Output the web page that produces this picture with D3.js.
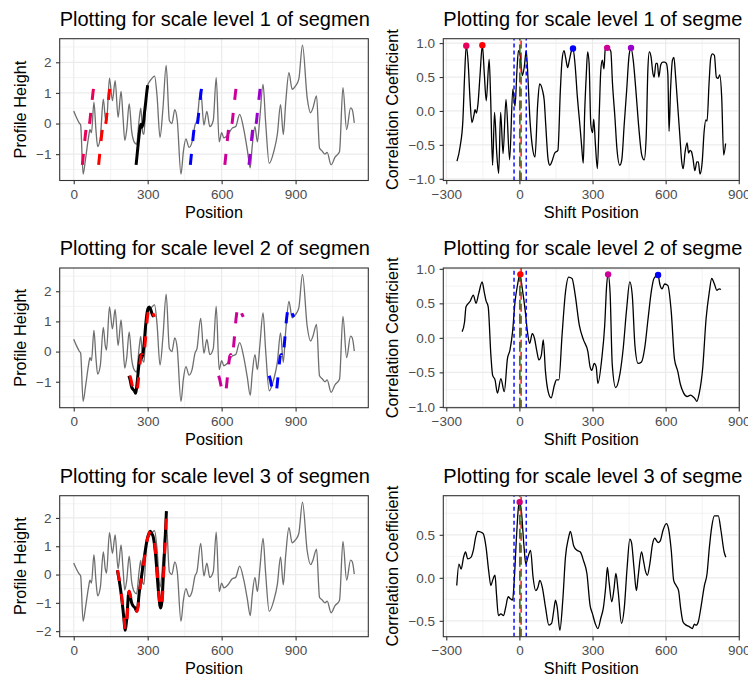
<!DOCTYPE html>
<html><head><meta charset="utf-8">
<script src="https://cdn.jsdelivr.net/npm/d3@7"></script>
<style>
html,body{margin:0;padding:0;background:#fff;overflow:hidden;}
svg{display:block;font-family:"Liberation Sans",Arial,Helvetica,sans-serif;}
</style></head><body>
<svg id="chart" width="748" height="678"></svg>
<script>
// ---------------- data ----------------
const profile = [[0,0.41],[12,0.18],[22,0.02],[28,-0.05],[38,-1.65],[48,-1.15],[60,-0.45],[66,-0.2],[72,-0.3],[82,0.7],[90,-0.2],[97,-0.75],[108,-0.45],[120,0.8],[128,0.2],[133,0.05],[145,1.48],[157,0.75],[168,1.4],[180,0.2],[192,1.05],[200,0.2],[207,-0.55],[215,-0.2],[225,0.65],[235,-0.25],[245,-0.6],[255,-0.68],[265,0.1],[272,0.5],[280,-0.3],[285,-0.35],[292,0.6],[300,1.25],[310,1.4],[320,1.5],[328,1.55],[338,0.9],[350,-0.45],[362,0.5],[375,1.9],[388,0.1],[398,0.0],[410,0.45],[420,0.1],[435,-1.65],[445,-0.9],[455,-0.5],[468,-0.78],[480,-0.6],[492,-0.05],[500,0.1],[515,1.1],[528,-0.05],[540,0.4],[552,-0.1],[566,0.1],[578,1.5],[590,-0.6],[600,-0.3],[609,-0.47],[623,-0.39],[643,-0.15],[657,-0.1],[673,0.3],[690,-0.2],[704,-0.85],[716,-1.45],[724,-0.74],[735,-0.1],[745,-0.6],[755,0.2],[768,1.28],[778,0.1],[793,-1.3],[812,-0.9],[826,-0.35],[839,0.62],[850,-0.36],[860,0.7],[873,1.66],[886,1.12],[900,1.23],[913,1.45],[928,2.56],[947,0.84],[961,0.35],[970,0.5],[985,0.9],[997,-0.8],[1008,-0.9],[1019,-1.0],[1028,-0.94],[1044,-1.35],[1060,-1.1],[1078,-0.92],[1092,1.17],[1107,-0.2],[1123,0.51],[1130,0.45],[1138,0.02]];

const segment1 = [[0,-1.35],[5,-0.95],[10,-0.55],[14,-0.25],[17,-0.1],[20,-0.02],[23,-0.12],[27,-0.05],[30,0.05],[34,0.35],[39,0.7],[43,1.0],[47,1.25]];
const segment2 = [[0,-0.8],[5,-0.95],[10,-1.15],[16,-1.25],[22,-1.3],[27,-1.38],[31,-1.2],[36,-0.8],[41,-0.4],[45,-0.15],[49,-0.1],[53,-0.2],[57,-0.05],[62,0.3],[67,0.8],[72,1.2],[77,1.42],[82,1.48],[88,1.4],[94,1.25],[100,1.15]];
const segment3 = [[0,0.15],[13,-0.53],[27,-1.6],[31,-1.97],[38,-1.57],[47,-0.59],[52,-0.75],[58,-1.0],[65,-1.12],[72,-1.18],[78,-1.3],[83,-1.15],[88,-0.7],[99,-0.01],[108,0.53],[115,0.95],[122,1.29],[128,1.45],[133,1.53],[139,1.45],[145,1.35],[155,0.71],[166,-0.53],[173,-1.12],[176,-1.18],[180,-1.0],[189,0.41],[194,1.3],[199,2.24]];
const segmentStarts = [253, 224, 177];

const peakShifts1 = [-218, -152, 220, 360, 458];
const peakCorr1   = [0.96, 0.97, 0.92, 0.93, 0.93];
const peakColors1 = ["#E8005A", "#FF0000", "#0000FF", "#CC0099", "#9A00CC"];
const peakShifts2 = [4, 364, 569];
const peakCorr2   = [0.92, 0.92, 0.91];
const peakColors2 = ["#FF0000", "#CC0099", "#0000FF"];
const peakShifts3 = [1];
const peakCorr3   = [0.88];
const peakColors3 = ["#CC0077"];
const leftDashColors3 = ["#FF0000"];

const corr1 = [[-256,-0.74],[-243,-0.52],[-232,-0.15],[-225,0.5],[-218,0.96],[-210,0.7],[-203,0.2],[-195,-0.17],[-187,-0.07],[-182,0.02],[-176,-0.03],[-170,0.1],[-162,0.5],[-152,0.97],[-144,0.55],[-136,0.15],[-124,0.76],[-118,0.2],[-110,-0.8],[-102,-0.02],[-93,-0.62],[-85,-0.92],[-77,-0.02],[-67,-0.63],[-55,0.17],[-40,-0.72],[-27,0.32],[-18,0.07],[-10,0.6],[-4,0.89],[4,0.8],[12,0.52],[20,0.65],[28,0.89],[35,0.5],[42,-0.05],[53,-0.52],[64,-0.68],[75,0.1],[83,0.4],[95,0.3],[102,0.15],[108,-0.2],[118,-0.72],[125,-0.8],[133,-0.75],[145,-0.62],[158,-0.58],[168,0.3],[175,0.75],[183,0.89],[190,0.78],[198,0.64],[205,0.75],[213,0.88],[220,0.92],[228,0.7],[238,0.2],[248,-0.2],[255,-0.5],[262,-0.77],[268,0.0],[274,0.5],[280,0.87],[286,0.7],[293,-0.2],[300,-0.32],[305,-0.12],[312,-0.5],[320,-0.85],[328,0.0],[334,0.6],[340,0.75],[347,0.62],[352,0.9],[362,0.93],[375,0.88],[382,0.4],[392,-0.1],[400,-0.55],[412,-0.8],[420,-0.72],[430,-0.2],[440,0.3],[450,0.82],[458,0.93],[467,0.75],[478,0.3],[490,-0.25],[502,-0.65],[512,-0.72],[520,-0.4],[527,0.6],[533,0.87],[540,0.8],[548,0.55],[553,0.5],[560,0.7],[566,0.7],[572,0.5],[580,0.68],[588,0.72],[596,0.72],[603,0.7],[609,0.55],[614,-0.3],[620,0.3],[628,0.75],[634,0.79],[640,0.55],[648,0.15],[658,-0.35],[666,-0.75],[672,-0.85],[680,-0.6],[688,-0.47],[694,-0.62],[700,-0.58],[706,-0.6],[712,-0.7],[720,-0.88],[728,-0.75],[734,-0.75],[741,-0.93],[750,-0.75],[758,-0.3],[765,-0.13],[770,-0.15],[778,0.4],[785,0.78],[792,0.84],[800,0.82],[808,0.5],[815,0.48],[822,0.53],[830,0.2],[838,-0.65],[846,-0.48]];

const corr2 = [[-235,0.09],[-225,0.23],[-219,0.45],[-202,0.53],[-189,0.62],[-178,0.5],[-167,0.64],[-153,0.81],[-144,0.66],[-137,0.54],[-128,0.45],[-117,-0.25],[-110,-0.54],[-100,-0.61],[-90,-0.8],[-76,-0.59],[-62,-0.78],[-49,-0.3],[-39,-0.18],[-28,0.09],[-18,0.52],[-8,0.76],[2,0.92],[12,0.71],[23,0.42],[33,0.09],[42,-0.08],[53,0.06],[62,-0.01],[71,-0.18],[80,-0.32],[90,-0.25],[98,-0.03],[107,-0.49],[118,-0.78],[130,-0.87],[144,-0.68],[152,-0.61],[162,-0.61],[175,0.04],[189,0.66],[202,0.88],[216,0.86],[229,0.62],[246,0.18],[263,-0.03],[281,-0.2],[290,-0.42],[297,-0.47],[307,-0.37],[315,-0.42],[322,-0.66],[338,-0.3],[350,0.18],[358,0.76],[364,0.92],[372,0.66],[381,-0.39],[395,-0.72],[413,-0.51],[426,-0.15],[440,0.42],[453,0.81],[463,0.62],[474,-0.11],[487,-0.37],[501,-0.35],[514,-0.15],[528,0.28],[542,0.69],[552,0.86],[569,0.91],[576,0.78],[585,0.71],[596,0.78],[609,0.76],[623,0.38],[636,-0.3],[650,-0.49],[661,-0.68],[674,-0.8],[688,-0.85],[702,-0.83],[711,-0.85],[720,-0.88],[728,-0.92],[738,-0.8],[752,-0.44],[766,0.28],[779,0.66],[789,0.86],[800,0.78],[810,0.69],[820,0.71],[827,0.7]];

const corr3 = [[-257,-0.09],[-248,0.16],[-239,0.1],[-229,0.24],[-221,0.3],[-212,0.22],[-198,0.24],[-189,0.32],[-178,0.49],[-171,0.54],[-157,0.53],[-148,0.51],[-137,0.36],[-126,0.08],[-117,-0.09],[-110,-0.03],[-100,0.03],[-94,-0.19],[-86,-0.44],[-76,-0.42],[-65,-0.44],[-56,-0.34],[-46,-0.22],[-38,-0.24],[-28,-0.26],[-22,-0.07],[-12,0.47],[-4,0.82],[1,0.88],[8,0.78],[19,0.36],[26,0.16],[35,0.24],[46,0.32],[56,0.01],[67,-0.15],[76,-0.11],[84,-0.03],[94,-0.11],[107,-0.34],[121,-0.55],[132,-0.53],[141,-0.38],[148,-0.26],[155,-0.34],[166,-0.61],[178,-0.26],[189,0.24],[202,0.47],[209,0.54],[223,0.37],[236,0.32],[250,0.3],[263,0.2],[277,0.05],[290,-0.32],[300,-0.42],[311,-0.53],[322,-0.59],[334,-0.47],[345,-0.34],[354,-0.11],[361,0.12],[368,-0.05],[379,-0.28],[388,-0.13],[396,0.05],[405,-0.15],[419,-0.53],[430,-0.36],[442,0.12],[453,0.45],[460,0.41],[470,0.12],[480,-0.15],[487,0.01],[501,0.3],[509,0.2],[517,0.08],[525,0.03],[535,0.16],[546,0.39],[555,0.46],[569,0.41],[578,0.43],[589,0.55],[603,0.63],[612,0.57],[623,0.32],[633,-0.03],[643,-0.09],[653,-0.15],[661,-0.34],[671,-0.51],[684,-0.55],[698,-0.57],[709,-0.59],[718,-0.54],[725,-0.55],[734,-0.51],[745,-0.34],[759,-0.09],[770,0.05],[779,0.34],[789,0.59],[800,0.72],[816,0.72],[827,0.55],[840,0.3],[847,0.24]];

const blueBounds = [-22, 28];
const redShift = 7;
const greenShift = 2;

const scaleLevels = [1, 2, 3];
const positionTicks = [0, 300, 600, 900];
const shiftTicks = [-300, 0, 300, 600, 900];
const heightTicks = [[-1,0,1,2],[-1,0,1,2],[-2,-1,0,1,2]];
const corrTicks = [[-1,-0.5,0,0.5,1],[-1,-0.5,0,0.5,1],[-0.5,0,0.5]];

// ---------------- layout ----------------
const svg = d3.select("#chart");
const rowsY = [[38.7,180.5],[268,407.7],[495.7,636.7]];
const leftX = [59.7, 368.3];
const rightX = [443.3, 739.3];
const FONT_TITLE = 20, FONT_AXIS = 16.3, FONT_TICK = 13.5;
const minus = s => s.replace(/-/g, "\u2212");

function expand(ext){ const r = ext[1]-ext[0]; return [ext[0]-0.05*r, ext[1]+0.05*r]; }
function minorBreaks(ticks, domain){
  const step = ticks[1]-ticks[0]; const out=[];
  for(let v = ticks[0]-step/2; v <= domain[1]; v += step){ if(v>=domain[0]) out.push(v); }
  return out;
}

let clipId = 0;
function panel(xr, yr, xDomain, yDomain, xt, yt, fmtY, title, xTitle, yTitle, yTitleX, drawContent){
  const x = d3.scaleLinear().domain(xDomain).range(xr);
  const y = d3.scaleLinear().domain(yDomain).range([yr[1], yr[0]]);
  const g = svg.append("g");
  const grid = g.append("g");
  minorBreaks(xt, xDomain).forEach(v => grid.append("line").attr("x1",x(v)).attr("x2",x(v)).attr("y1",yr[0]).attr("y2",yr[1]).attr("stroke","#EBEBEB").attr("stroke-width",0.6));
  minorBreaks(yt, yDomain).forEach(v => grid.append("line").attr("y1",y(v)).attr("y2",y(v)).attr("x1",xr[0]).attr("x2",xr[1]).attr("stroke","#EBEBEB").attr("stroke-width",0.6));
  xt.filter(v=>v>=xDomain[0]&&v<=xDomain[1]).forEach(v => grid.append("line").attr("x1",x(v)).attr("x2",x(v)).attr("y1",yr[0]).attr("y2",yr[1]).attr("stroke","#EBEBEB").attr("stroke-width",1.2));
  yt.forEach(v => grid.append("line").attr("y1",y(v)).attr("y2",y(v)).attr("x1",xr[0]).attr("x2",xr[1]).attr("stroke","#EBEBEB").attr("stroke-width",1.2));
  const id = "clip"+(clipId++);
  svg.append("clipPath").attr("id",id).append("rect").attr("x",xr[0]).attr("y",yr[0]).attr("width",xr[1]-xr[0]).attr("height",yr[1]-yr[0]);
  const content = g.append("g").attr("clip-path",`url(#${id})`);
  drawContent(content, x, y);
  g.append("rect").attr("x",xr[0]).attr("y",yr[0]).attr("width",xr[1]-xr[0]).attr("height",yr[1]-yr[0]).attr("fill","none").attr("stroke","#333333").attr("stroke-width",1.1);
  const ax = g.append("g").attr("transform",`translate(0,${yr[1]})`).call(d3.axisBottom(x).tickValues(xt).tickSize(3.7).tickPadding(5).tickFormat(d=>minus(String(d))));
  const ay = g.append("g").attr("transform",`translate(${xr[0]},0)`).call(d3.axisLeft(y).tickValues(yt).tickSize(3.7).tickPadding(4.5).tickFormat(d=>minus(fmtY(d))));
  [ax, ay].forEach(a => {
    a.select(".domain").remove();
    a.selectAll(".tick line").attr("stroke","#333333").attr("stroke-width",1.1);
    a.selectAll(".tick text").attr("fill","#4D4D4D").style("font-size",FONT_TICK+"px").style("font-family","'Liberation Sans',Arial,sans-serif");
  });
  g.append("text").attr("x",xr[0]).attr("y",yr[0]-13).text(title).style("font-size",FONT_TITLE+"px").attr("fill","#000");
  g.append("text").attr("x",(xr[0]+xr[1])/2).attr("y",yr[1]+37.5).attr("text-anchor","middle").text(xTitle).style("font-size",FONT_AXIS+"px").attr("fill","#000");
  g.append("text").attr("transform",`translate(${yTitleX},${(yr[0]+yr[1])/2}) rotate(-90)`).attr("text-anchor","middle").text(yTitle).style("font-size",FONT_AXIS+"px").attr("fill","#000");
}

const segments = [segment1, segment2, segment3];
const peakShifts = [peakShifts1, peakShifts2, peakShifts3];
const peakCorrs = [peakCorr1, peakCorr2, peakCorr3];
const peakColors = [peakColors1, peakColors2, peakColors3];
const dashColors = [peakColors1, peakColors2, leftDashColors3];
const corrs = [corr1, corr2, corr3];

const posDomain = expand(d3.extent(profile, d=>d[0]));
const allShift = corr1.concat(corr2, corr3).map(d=>d[0]);
const shiftDomain = expand(d3.extent(allShift));

scaleLevels.forEach((lvl, i) => {
  const seg = segments[i], start = segmentStarts[i];
  const shifted = s => seg.map(d => [d[0]+start+s, d[1]]);
  const allY = profile.map(d=>d[1]).concat(seg.map(d=>d[1]));
  const yDom = expand(d3.extent(allY));
  panel(leftX, rowsY[i], posDomain, yDom, positionTicks, heightTicks[i], d=>String(d),
    `Plotting for scale level ${lvl} of segmen`, "Position", "Profile Height", 26,
    (c, x, y) => {
      const line = d3.line().x(d=>x(d[0])).y(d=>y(d[1])).curve(d3.curveMonotoneX);
      c.append("path").datum(profile).attr("d",line).attr("fill","none").attr("stroke","#6E6E6E").attr("stroke-width",1.3);
      c.append("path").datum(shifted(0)).attr("d",line).attr("fill","none").attr("stroke","#000").attr("stroke-width",3);
      peakShifts[i].forEach((s, k) => {
        c.append("path").datum(shifted(s)).attr("d",line).attr("fill","none").attr("stroke",dashColors[i][k]).attr("stroke-width",3).attr("stroke-dasharray","11,13");
      });
    });

  const cy = expand(d3.extent(corrs[i], d=>d[1]));
  panel(rightX, rowsY[i], shiftDomain, cy, shiftTicks, corrTicks[i], d3.format(".1f"),
    `Plotting for scale level ${lvl} of segme`, "Shift Position", "Correlation Coefficient", 398,
    (c, x, y) => {
      const line = d3.line().x(d=>x(d[0])).y(d=>y(d[1])).curve(d3.curveMonotoneX);
      c.append("path").datum(corrs[i]).attr("d",line).attr("fill","none").attr("stroke","#000").attr("stroke-width",1.3);
      blueBounds.forEach(b => c.append("line").attr("x1",x(b)).attr("x2",x(b)).attr("y1",y.range()[0]).attr("y2",y.range()[1]).attr("stroke","#0000FF").attr("stroke-width",1.4).attr("stroke-dasharray","4,3"));
      c.append("line").attr("x1",x(redShift)).attr("x2",x(redShift)).attr("y1",y.range()[0]).attr("y2",y.range()[1]).attr("stroke","#FF0000").attr("stroke-width",1.4).attr("stroke-dasharray","8,4");
      c.append("line").attr("x1",x(greenShift)).attr("x2",x(greenShift)).attr("y1",y.range()[0]).attr("y2",y.range()[1]).attr("stroke","#006400").attr("stroke-width",1.4).attr("stroke-dasharray","10,4");
      peakShifts[i].forEach((s,k) => c.append("circle").attr("cx",x(s)).attr("cy",y(peakCorrs[i][k])).attr("r",3.2).attr("fill",peakColors[i][k]));
    });
});
</script>
</body></html>
